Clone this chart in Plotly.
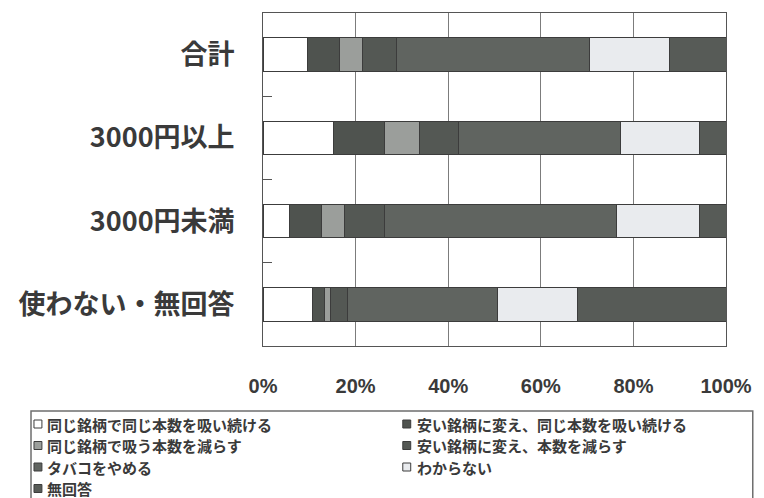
import plotly.graph_objects as go

# Respondent groups (top to bottom)
groups = ["合計", "3000円以上", "3000円未満", "使わない・無回答"]

# Share of answers (%) per group
same_brand_same_amount = [9.6, 15.2, 5.8, 10.6]
cheaper_brand_same_amount = [6.9, 11.1, 6.8, 2.7]
same_brand_fewer = [5.0, 7.5, 5.0, 1.3]
cheaper_brand_fewer = [7.3, 8.4, 8.7, 3.7]
quit_smoking = [41.7, 35.0, 50.1, 32.3]
dont_know = [17.4, 17.0, 17.9, 17.4]
no_answer = [12.1, 5.8, 5.7, 32.0]

series_names = [
    "同じ銘柄で同じ本数を吸い続ける",
    "安い銘柄に変え、同じ本数を吸い続ける",
    "同じ銘柄で吸う本数を減らす",
    "安い銘柄に変え、本数を減らす",
    "タバコをやめる",
    "わからない",
    "無回答",
]
series_values = [
    same_brand_same_amount,
    cheaper_brand_same_amount,
    same_brand_fewer,
    cheaper_brand_fewer,
    quit_smoking,
    dont_know,
    no_answer,
]
series_colors = ["#ffffff", "#4f534f", "#9b9e9b", "#545854", "#606460", "#e9ebee", "#575b57"]

x_tick_values = [0, 20, 40, 60, 80, 100]
x_tick_labels = ["0%", "20%", "40%", "60%", "80%", "100%"]

W, H = 764, 498
L, R, T, B = 263, 34, 13, 152
PW, PH = W - L - R, H - T - B


def px(x):
    return (x - L) / PW


def py(y):
    return (H - B - y) / PH


TEXT = "#3a3a3a"
CJK = "Noto Sans CJK JP"
LEG_SIZE = 15
ROW0, ROW_STEP = 424, 21.5

fig = go.Figure()
for name, vals, col in zip(series_names, series_values, series_colors):
    fig.add_trace(go.Bar(
        y=groups, x=vals, name=name, orientation="h",
        marker=dict(color=col, line=dict(color="#3c3c3c", width=1)),
        width=0.4, showlegend=False,
    ))

# Legend box below the plot: two columns, entries filled row by row
shapes = [dict(type="rect", xref="paper", yref="paper",
               x0=px(29), x1=px(757), y0=py(505), y1=py(411),
               line=dict(color="#6e6e6e", width=1.5), fillcolor="rgba(0,0,0,0)")]
annotations = []
col_sq = [36, 408]
col_tx = [43, 416]
for i, (name, col) in enumerate(zip(series_names, series_colors)):
    r, c = divmod(i, 2)
    yc = ROW0 + r * ROW_STEP
    shapes.append(dict(type="rect", xref="paper", yref="paper",
                       x0=px(col_sq[c] - 4), x1=px(col_sq[c] + 4),
                       y0=py(yc + 4), y1=py(yc - 4),
                       line=dict(color="#3c3c3c", width=1), fillcolor=col))
    annotations.append(dict(xref="paper", yref="paper", x=px(col_tx[c]), y=py(yc),
                            xanchor="left", yanchor="middle", showarrow=False,
                            text=f"<b>{name}</b>",
                            font=dict(family=CJK, size=LEG_SIZE, color=TEXT)))

fig.update_layout(
    width=W, height=H,
    margin=dict(l=L, r=R, t=T, b=B, pad=0),
    paper_bgcolor="white", plot_bgcolor="white",
    barmode="stack",
    shapes=shapes, annotations=annotations,
    xaxis=dict(
        range=[0, 100], tickvals=x_tick_values, ticktext=x_tick_labels,
        showgrid=True, gridcolor="#7c7c7c", gridwidth=1,
        showline=True, linecolor="#555555", linewidth=1, mirror=True,
        ticks="", ticklabelstandoff=22, zeroline=False,
        tickfont=dict(family="Liberation Sans", size=20, color=TEXT, weight="bold"),
    ),
    yaxis=dict(
        categoryorder="array", categoryarray=groups, autorange="reversed",
        showgrid=False, showline=True, linecolor="#555555", linewidth=1, mirror=True,
        ticks="inside", ticklen=9, tickcolor="#555555", tickson="boundaries",
        ticklabelstandoff=22,
        tickfont=dict(family=CJK, size=27, color=TEXT, weight="bold"),
    ),
)

fig.write_html("out.html")
